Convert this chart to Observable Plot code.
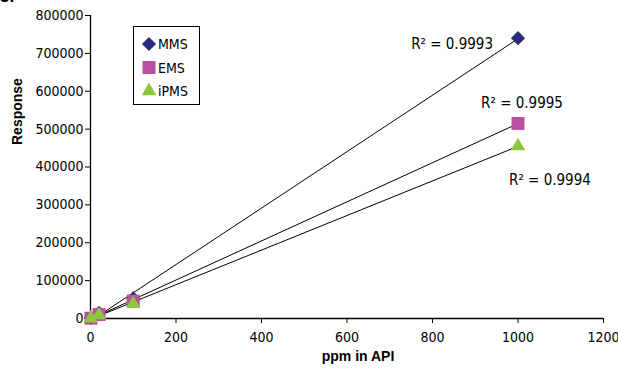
<!DOCTYPE html>
<html>
<head>
<meta charset="utf-8">
<script src="https://cdn.jsdelivr.net/npm/d3@7"></script>
<script src="https://cdn.jsdelivr.net/npm/@observablehq/plot@0.6"></script>
<style>
  html, body { margin: 0; padding: 0; background: #fff; }
  #wrap { position: relative; width: 618px; height: 368px; overflow: hidden; }
  #tag { position: absolute; left: 0px; top: -13px; font: bold 17px "Liberation Sans", Arial, sans-serif; color: #000; }
  #legend { position: absolute; left: 133px; top: 26px; }
</style>
</head>
<body>
<div id="wrap">
  <div id="chart"></div>
  <div id="tag">3.</div>
  <div id="legend"></div>
</div>
<script>
// ---- data ----
const seriesNames = ["MMS", "EMS", "iPMS"];
const seriesColors = ["#2b2a7c", "#b94fa1", "#8dc63f"];
const seriesSymbols = ["diamond2", "square", "triangle"];
const ppm = [1, 20, 100, 1000];
const mmsResponse = [1000, 14800, 53000, 740000];
const emsResponse = [800, 10300, 46000, 515000];
const ipmsResponse = [600, 9100, 39000, 455000];
const r2Labels = ["R\u00B2 = 0.9993", "R\u00B2 = 0.9995", "R\u00B2 = 0.9994"];
const xTicks = [0, 200, 400, 600, 800, 1000, 1200];
const yTicks = [0, 100000, 200000, 300000, 400000, 500000, 600000, 700000, 800000];
const xTitle = "ppm in API";
const yTitle = "Response";

// ---- table ----
const responses = [mmsResponse, emsResponse, ipmsResponse];
const rows = [];
seriesNames.forEach((s, i) => ppm.forEach((x, j) => rows.push({series: s, x, y: responses[i][j]})));
const lastPts = seriesNames.map((s, i) => ({series: s, x: ppm[ppm.length - 1], y: responses[i][ppm.length - 1], label: r2Labels[i]}));

const symbolR = {diamond2: 6.4, square: 7.3, triangle: 5.4};
const labelOffsets = [
  {dx: -25, dy: 6, textAnchor: "end"},
  {dx: 4, dy: -20, textAnchor: "middle"},
  {dx: -9, dy: 34, textAnchor: "start"}
];

const font = "'DejaVu Sans Condensed', 'DejaVu Sans', sans-serif";

const chart = Plot.plot({
  width: 618,
  height: 368,
  marginLeft: 90,
  marginRight: 15,
  marginTop: 15,
  marginBottom: 50,
  style: {fontFamily: font, fontSize: "14px", color: "#000", background: "#fff", overflow: "visible"},
  x: {domain: [0, 1200]},
  y: {domain: [0, 800000]},
  marks: [
    Plot.axisX({ticks: xTicks, tickSize: 5, tickPadding: 9, tickFormat: d3.format("d"), label: null, stroke: "#000", fill: "#000"}),
    Plot.axisY({ticks: yTicks, tickSize: 5, tickPadding: 2, tickFormat: d3.format("d"), label: null, stroke: "#000", fill: "#000"}),
    Plot.ruleX([0], {stroke: "#000", strokeWidth: 1.3}),
    Plot.ruleY([0], {stroke: "#000", strokeWidth: 1.3}),
    Plot.linearRegressionY(rows, {x: "x", y: "y", z: "series", stroke: "#000", strokeWidth: 1, ci: 0}),
    ...seriesNames.map((s, i) => Plot.dot(rows.filter(d => d.series === s), {
      x: "x", y: "y", symbol: seriesSymbols[i], r: symbolR[seriesSymbols[i]], fill: seriesColors[i], stroke: "none"
    })),
    ...lastPts.map((p, i) => Plot.text([p], {
      x: "x", y: "y", text: "label", dx: labelOffsets[i].dx, dy: labelOffsets[i].dy,
      textAnchor: labelOffsets[i].textAnchor, fontSize: 15, fill: "#000"
    })),
    Plot.text([yTitle], {frameAnchor: "left", text: d => d, rotate: -90, dx: -73, dy: -22,
      fontWeight: "bold", fontSize: 14, fontFamily: "'Liberation Sans', Arial, sans-serif", fill: "#000"}),
    Plot.text([xTitle], {frameAnchor: "bottom", text: d => d, dx: 11, dy: 42,
      fontWeight: "bold", fontSize: 14, fontFamily: "'Liberation Sans', Arial, sans-serif", fill: "#000"})
  ]
});
document.getElementById("chart").appendChild(chart);

// ---- legend ----
const lw = 67, lh = 79;
const leg = d3.select("#legend").append("svg").attr("width", lw).attr("height", lh);
leg.append("rect").attr("x", 0.5).attr("y", 0.5).attr("width", lw - 1).attr("height", lh - 1)
  .attr("fill", "#fff").attr("stroke", "#000").attr("stroke-width", 1);
const d3Sym = {diamond2: d3.symbolDiamond2, square: d3.symbolSquare, triangle: d3.symbolTriangle};
seriesNames.forEach((s, i) => {
  const cy = 18 + i * 23.5;
  const r = symbolR[seriesSymbols[i]];
  leg.append("path")
    .attr("d", d3.symbol(d3Sym[seriesSymbols[i]], Math.PI * r * r)())
    .attr("transform", `translate(16,${cy})`)
    .attr("fill", seriesColors[i]);
  leg.append("text").attr("x", 25).attr("y", cy).attr("dy", "0.36em")
    .attr("font-family", font).attr("font-size", 14).attr("fill", "#000").text(s);
});
</script>
</body>
</html>
